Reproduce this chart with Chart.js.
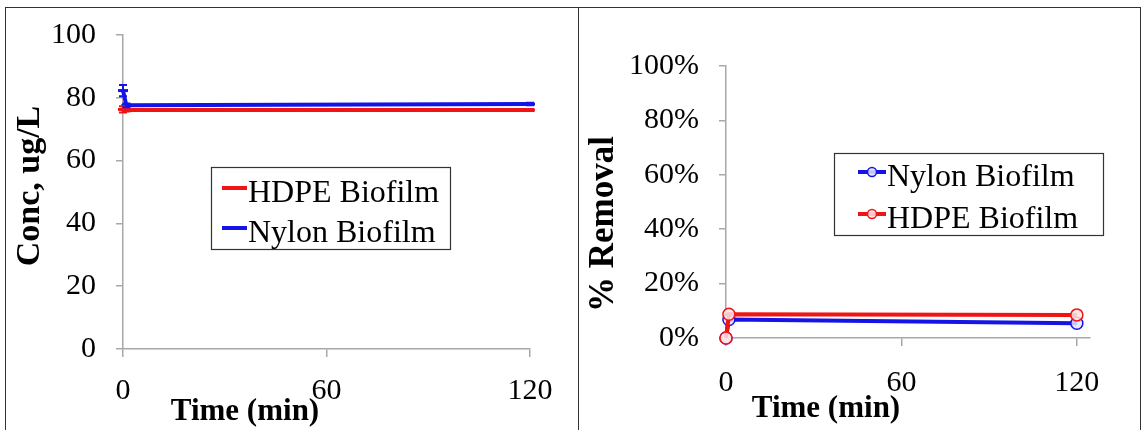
<!DOCTYPE html>
<html><head><meta charset="utf-8">
<script src="https://cdn.jsdelivr.net/npm/chart.js@4.4.1/dist/chart.umd.min.js"></script>
<style>
html,body{margin:0;padding:0;background:#fff;width:1146px;height:430px;overflow:hidden}
.panel{position:absolute;box-sizing:border-box;border:1px solid #333;top:7px;height:440px;background:#fff}
#p1{left:5px;width:574px}
#p2{left:578px;width:563px}
.panel canvas{position:absolute;left:0;top:0}
</style></head>
<body>
<div class="panel" id="p1"><canvas id="c1" width="572" height="422"></canvas></div>
<div class="panel" id="p2"><canvas id="c2" width="561" height="422"></canvas></div>
<script>
// ---- data ----
const timeMin = [0, 1, 120];
const timeTicks = [0, 60, 120];
const concTicks = [0, 20, 40, 60, 80, 100];
const removalTicks = [0, 20, 40, 60, 80, 100];

const hdpeConc = [76.3, 76.1, 76.1];
const hdpeConcErr = [1.0, 0.5, 0.3];
const nylonConc = [82.3, 77.6, 78.0];
const nylonConcErr = [1.8, 0.6, 0.4];

const nylonRemoval = [0, 6.8, 5.4];
const hdpeRemoval = [0, 8.7, 8.5];

const seriesNames = { hdpe: 'HDPE Biofilm', nylon: 'Nylon Biofilm' };
const xTitle = 'Time (min)';
const yTitleConc = 'Conc, ug/L';
const yTitleRemoval = '% Removal';

// ---- styling ----
const RED = '#f01414';
const BLUE = '#1414e6';
const AXIS = '#a8a8a8';
const SERIF = "'Liberation Serif', 'Times New Roman', serif";

function pts(xs, ys) { return xs.map((x, i) => ({ x: x, y: ys[i] })); }

const errorBarPlugin = {
  id: 'errorBars',
  afterDatasetsDraw(chart) {
    const ctx = chart.ctx, xs = chart.scales.x, ys = chart.scales.y;
    chart.data.datasets.forEach(ds => {
      if (!ds.errors) return;
      ctx.save();
      ctx.strokeStyle = ds.borderColor;
      ctx.lineWidth = 2;
      ds.data.forEach((p, i) => {
        const e = ds.errors[i];
        const px = xs.getPixelForValue(p.x);
        const top = ys.getPixelForValue(p.y + e), bot = ys.getPixelForValue(p.y - e);
        ctx.beginPath();
        ctx.moveTo(px, top); ctx.lineTo(px, bot);
        ctx.moveTo(px - 4, top); ctx.lineTo(px + 4, top);
        ctx.moveTo(px - 4, bot); ctx.lineTo(px + 4, bot);
        ctx.stroke();
      });
      ctx.restore();
    });
  }
};

const decorPlugin = {
  id: 'decor',
  afterDraw(chart, args, o) {
    const ctx = chart.ctx;
    ctx.save();
    ctx.fillStyle = '#000';
    ctx.textAlign = 'center';
    ctx.textBaseline = 'middle';
    ctx.font = 'bold ' + o.xTitle.size + 'px ' + SERIF;
    ctx.fillText(o.xTitle.text, o.xTitle.x, o.xTitle.y);
    ctx.save();
    ctx.font = 'bold ' + o.yTitle.size + 'px ' + SERIF;
    ctx.translate(o.yTitle.x, o.yTitle.y);
    ctx.rotate(-Math.PI / 2);
    ctx.fillText(o.yTitle.text, 0, 0);
    ctx.restore();
    // legend
    const L = o.legend;
    ctx.fillStyle = '#fff';
    ctx.fillRect(L.x, L.y, L.w, L.h);
    ctx.strokeStyle = '#333';
    ctx.lineWidth = 1.2;
    ctx.strokeRect(L.x + 0.5, L.y + 0.5, L.w, L.h);
    ctx.font = L.size + 'px ' + SERIF;
    ctx.textAlign = 'left';
    L.items.forEach((idx, r) => {
      const ds = chart.data.datasets[idx];
      const sy = L.y + L.row0 + r * L.rowH;
      ctx.strokeStyle = ds.borderColor;
      ctx.lineWidth = 4;
      ctx.beginPath();
      ctx.moveTo(L.x + L.sx0, sy); ctx.lineTo(L.x + L.sx1, sy);
      ctx.stroke();
      if (L.marker) {
        ctx.lineWidth = 1.5;
        ctx.fillStyle = ds.pointBackgroundColor;
        ctx.beginPath();
        ctx.arc(L.x + (L.sx0 + L.sx1) / 2, sy, 4.5, 0, Math.PI * 2);
        ctx.fill(); ctx.stroke();
      }
      ctx.fillStyle = '#000';
      ctx.fillText(ds.label, L.x + L.sx1 + 1, sy + L.textDy);
    });
    ctx.restore();
  }
};

function noPad(s) { s.paddingTop = 0; s.paddingBottom = 0; s.paddingLeft = 0; s.paddingRight = 0; }

function axisCommon() {
  return {
    grid: { display: true, drawOnChartArea: false, drawTicks: true, tickLength: 7, color: AXIS, lineWidth: 1.5 },
    border: { display: true, color: AXIS, width: 1.5 }
  };
}

// ---- Left chart: concentration ----
new Chart(document.getElementById('c1'), {
  type: 'scatter',
  data: {
    datasets: [
      { label: seriesNames.hdpe, data: pts(timeMin, hdpeConc), errors: hdpeConcErr, showLine: true,
        borderColor: RED, backgroundColor: RED, borderWidth: 4, pointStyle: 'line', pointRadius: 5,
        pointBorderWidth: 3, pointBorderColor: RED, clip: false },
      { label: seriesNames.nylon, data: pts(timeMin, nylonConc), errors: nylonConcErr, showLine: true,
        borderColor: BLUE, backgroundColor: BLUE, borderWidth: 4, pointStyle: 'line', pointRadius: 5,
        pointBorderWidth: 3, pointBorderColor: BLUE, clip: false }
    ]
  },
  options: {
    responsive: false, animation: false,
    layout: { autoPadding: false, padding: { top: 27, right: 48, left: 0, bottom: 0 } },
    plugins: {
      legend: { display: false }, tooltip: { enabled: false },
      decor: {
        xTitle: { text: xTitle, x: 239, y: 404, size: 31 },
        yTitle: { text: yTitleConc, x: 24, y: 178, size: 34 },
        legend: { x: 205, y: 159, w: 239, h: 82, size: 32, row0: 21, rowH: 40, sx0: 11, sx1: 36, textDy: 6, marker: false,
                  items: [0, 1] }
      }
    },
    scales: {
      x: Object.assign(axisCommon(), {
        type: 'linear', min: 0, max: 120,
        afterBuildTicks: s => { s.ticks = timeTicks.map(v => ({ value: v })); },
        afterFit: s => { s.height = 81; noPad(s); },
        grid: { display: true, drawOnChartArea: false, drawTicks: true, tickLength: 8, color: AXIS, lineWidth: 1.5 },
        ticks: { font: { family: SERIF, size: 30 }, color: '#000', padding: 16, maxRotation: 0 }
      }),
      y: Object.assign(axisCommon(), {
        type: 'linear', min: 0, max: 100,
        afterBuildTicks: s => { s.ticks = concTicks.map(v => ({ value: v })); },
        afterFit: s => { s.width = 117; noPad(s); },
        ticks: { font: { family: SERIF, size: 30 }, color: '#000', padding: 20 }
      })
    }
  },
  plugins: [errorBarPlugin, decorPlugin]
});

// ---- Right chart: % removal ----
new Chart(document.getElementById('c2'), {
  type: 'scatter',
  data: {
    datasets: [
      { label: seriesNames.hdpe, data: pts(timeMin, hdpeRemoval), showLine: true,
        borderColor: RED, backgroundColor: RED, borderWidth: 4, pointStyle: 'circle', pointRadius: 6,
        pointBorderWidth: 1.5, pointBorderColor: RED, pointBackgroundColor: 'rgba(255,228,228,0.85)', clip: false },
      { label: seriesNames.nylon, data: pts(timeMin, nylonRemoval), showLine: true,
        borderColor: BLUE, backgroundColor: BLUE, borderWidth: 4, pointStyle: 'circle', pointRadius: 6,
        pointBorderWidth: 1.5, pointBorderColor: BLUE, pointBackgroundColor: 'rgba(228,228,255,0.85)', clip: false }
    ]
  },
  options: {
    responsive: false, animation: false,
    layout: { autoPadding: false, padding: { top: 58, right: 50, left: 0, bottom: 0 } },
    plugins: {
      legend: { display: false }, tooltip: { enabled: false },
      decor: {
        xTitle: { text: xTitle, x: 247, y: 401, size: 31 },
        yTitle: { text: yTitleRemoval, x: 25, y: 216, size: 35 },
        legend: { x: 255, y: 145, w: 269, h: 82, size: 32, row0: 19, rowH: 42, sx0: 24, sx1: 52, textDy: 6, marker: true,
                  items: [1, 0] }
      }
    },
    scales: {
      x: Object.assign(axisCommon(), {
        type: 'linear', min: 0, max: 124.5,
        afterBuildTicks: s => { s.ticks = timeTicks.map(v => ({ value: v })); },
        afterFit: s => { s.height = 92; noPad(s); },
        grid: { display: true, drawOnChartArea: false, drawTicks: true, tickLength: 8, color: AXIS, lineWidth: 1.5 },
        ticks: { font: { family: SERIF, size: 30 }, color: '#000', padding: 19, maxRotation: 0 }
      }),
      y: Object.assign(axisCommon(), {
        type: 'linear', min: 0, max: 100,
        afterBuildTicks: s => { s.ticks = removalTicks.map(v => ({ value: v })); },
        afterFit: s => { s.width = 147; noPad(s); },
        ticks: { font: { family: SERIF, size: 30 }, color: '#000', padding: 20, callback: v => v + '%' }
      })
    }
  },
  plugins: [decorPlugin]
});
</script>
</body></html>
